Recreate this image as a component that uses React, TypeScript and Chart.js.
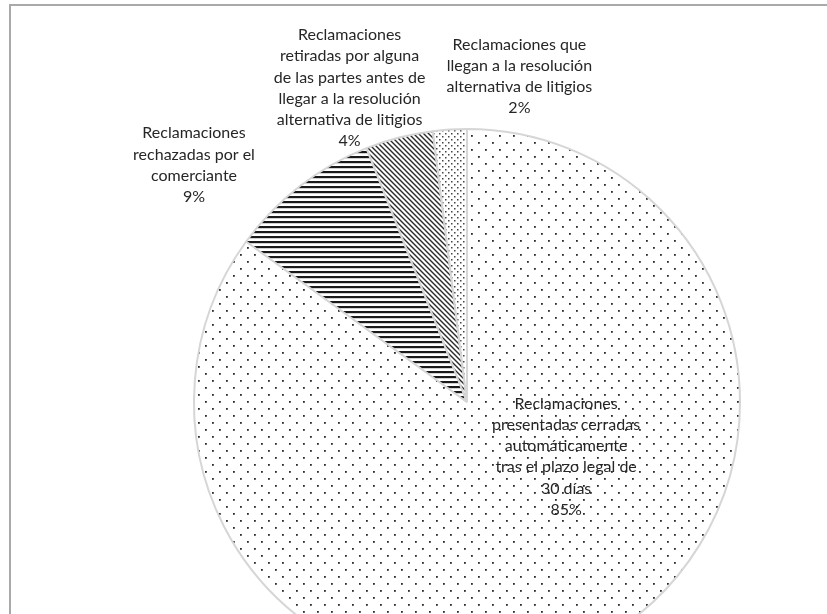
import React, { useEffect, useRef } from "react";
import { Chart, registerables } from "chart.js";

Chart.register(...registerables);

const categories: string[][] = [
  ["Reclamaciones", "presentadas cerradas", "automáticamente", "tras el plazo legal de", "30 días"],
  ["Reclamaciones", "rechazadas por el", "comerciante"],
  ["Reclamaciones", "retiradas por alguna", "de las partes antes de", "llegar a la resolución", "alternativa de litigios"],
  ["Reclamaciones que", "llegan a la resolución", "alternativa de litigios"],
];
const values = [85, 9, 4, 2];
// label block centre, as fractions of the pie radius from the pie centre
const labelOffsets: [number, number][] = [
  [0.363, 0.2],
  [-1.0, -0.868],
  [-0.43, -1.15],
  [0.192, -1.193],
];

function makePattern(kind: string): CanvasPattern | string {
  const c = document.createElement("canvas");
  const ctx = c.getContext("2d")!;
  if (kind === "sparseDots") {
    c.width = 14; c.height = 14;
    ctx.fillStyle = "#fff"; ctx.fillRect(0, 0, 14, 14);
    ctx.fillStyle = "#2a2a2a";
    ctx.fillRect(2, 2, 1.8, 1.8);
    ctx.fillRect(9, 9, 1.8, 1.8);
  } else if (kind === "hstripes") {
    c.width = 8; c.height = 5;
    ctx.fillStyle = "#fff"; ctx.fillRect(0, 0, 8, 5);
    ctx.fillStyle = "#1a1a1a";
    ctx.fillRect(0, 1, 8, 2.2);
  } else if (kind === "diag") {
    c.width = 5; c.height = 5;
    ctx.fillStyle = "#fff"; ctx.fillRect(0, 0, 5, 5);
    ctx.strokeStyle = "#2a2a2a"; ctx.lineWidth = 1.4;
    ctx.beginPath();
    ctx.moveTo(-1, -1); ctx.lineTo(6, 6);
    ctx.moveTo(-1, 4); ctx.lineTo(1, 6);
    ctx.moveTo(4, -1); ctx.lineTo(6, 1);
    ctx.stroke();
  } else {
    c.width = 6; c.height = 6;
    ctx.fillStyle = "#fff"; ctx.fillRect(0, 0, 6, 6);
    ctx.fillStyle = "#444";
    ctx.fillRect(1, 1, 1.5, 1.5);
    ctx.fillRect(4, 4, 1.5, 1.5);
  }
  return ctx.createPattern(c, "repeat") || "#fff";
}

const labelPlugin = {
  id: "pieLabels",
  afterDatasetsDraw(chart: any) {
    const meta = chart.getDatasetMeta(0);
    const ctx = chart.ctx;
    const total = values.reduce((a, b) => a + b, 0);
    ctx.save();
    ctx.font = "16px Lato, 'Open Sans', sans-serif";
    ctx.fillStyle = "#262626";
    ctx.textAlign = "center";
    ctx.textBaseline = "middle";
    const lh = 21.3;
    meta.data.forEach((arc: any, i: number) => {
      const r = arc.outerRadius;
      const cx = arc.x + labelOffsets[i][0] * r;
      const cy = arc.y + labelOffsets[i][1] * r;
      const lines = [...categories[i], Math.round((values[i] / total) * 100) + "%"];
      const startY = cy - ((lines.length - 1) * lh) / 2;
      lines.forEach((t, k) => ctx.fillText(t, cx, startY + k * lh));
    });
    ctx.restore();
  },
};

export default function App() {
  const ref = useRef<HTMLCanvasElement>(null);
  useEffect(() => {
    if (!ref.current) return;
    const patterns = [makePattern("sparseDots"), makePattern("hstripes"), makePattern("diag"), makePattern("denseDots")];
    const chart = new Chart(ref.current, {
      type: "pie",
      data: {
        labels: categories.map((c) => c.join(" ")),
        datasets: [
          {
            data: values,
            backgroundColor: patterns as any,
            borderColor: "#d6d6d6",
            borderWidth: 2,
          },
        ],
      },
      options: {
        responsive: false,
        animation: false,
        radius: 273,
        layout: { padding: { left: 107, top: 0, right: 0, bottom: 0 } },
        plugins: { legend: { display: false }, tooltip: { enabled: false } },
      } as any,
      plugins: [labelPlugin],
    });
    return () => chart.destroy();
  }, []);
  return (
    <div style={{ position: "fixed", left: 0, top: 0, width: 827, height: 614, overflow: "hidden", background: "#fff" }}>
      <div style={{ position: "absolute", left: 9, top: 4, width: 900, height: 700, borderLeft: "2px solid #a9a9a9", borderTop: "2px solid #a9a9a9" }} />
      <div style={{ position: "absolute", left: 0, top: 0, width: 827, height: 804 }}>
        <canvas ref={ref} width={827} height={804} style={{ display: "block" }} />
      </div>
    </div>
  );
}
